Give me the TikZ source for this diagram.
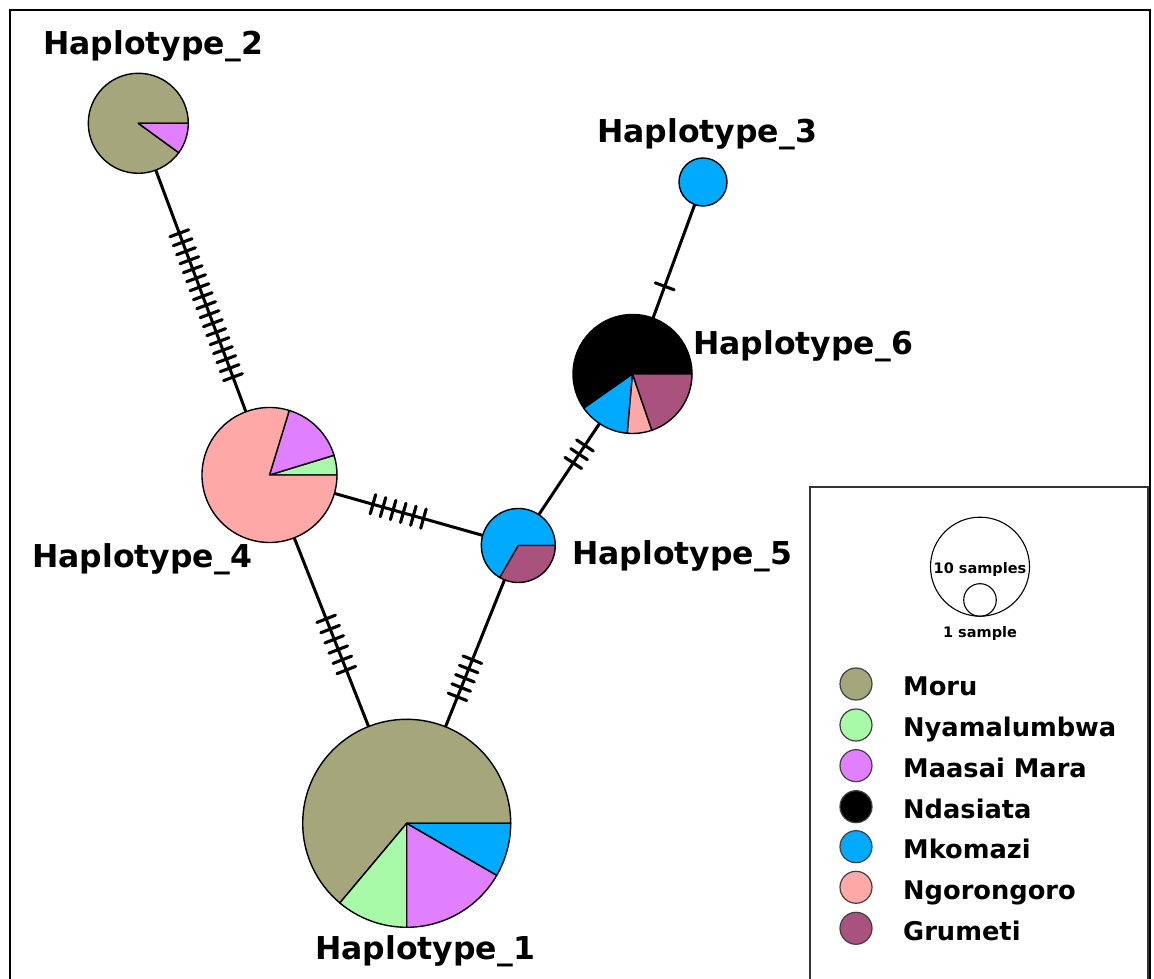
\documentclass[tikz,border=0pt]{standalone}
\usepackage{fontspec}
\setmainfont{DejaVu Sans}
\usetikzlibrary{decorations.markings}
\definecolor{moru}{RGB}{166,166,124}
\definecolor{nyama}{RGB}{168,250,168}
\definecolor{maasai}{RGB}{225,128,255}
\definecolor{ndas}{RGB}{0,0,0}
\definecolor{mkom}{RGB}{0,170,255}
\definecolor{ngoro}{RGB}{255,168,168}
\definecolor{grum}{RGB}{168,82,125}
\tikzset{
  hap/.style={circle, minimum size=#1, inner sep=0pt, outer sep=0pt},
  edge/.style={line width=3pt, black},
  tk/.style={line width=3.1pt, line cap=round, black},
  ticks/.style n args={3}{postaction={decorate}, decoration={markings,
     mark=at position #1 with {\foreach \k in {1,...,#2} {\draw[tk] ({((\k-(#2+1)/2)*#3)*1pt},-10pt) -- ++(0pt,20pt);}}}},
  slice/.style={draw=black, line width=1.4pt, line join=round},
  hlabel/.style={font=\bfseries\fontsize{31.5}{32}\selectfont, anchor=base west, inner sep=0pt},
  leglab/.style={font=\bfseries\fontsize{25.7}{26}\selectfont, anchor=base west, inner sep=0pt},
  legdot/.style={circle, draw=black!75, line width=1.2pt, minimum size=32pt, inner sep=0pt},
  sizecirc/.style={circle, draw=black, line width=1.1pt, minimum size=#1, inner sep=0pt},
  smalltxt/.style={font=\bfseries\fontsize{14.5}{15}\selectfont, anchor=base, inner sep=0pt},
  frame/.style={line width=2pt, black},
  legframe/.style={line width=1.6pt, black!80},
}
\newcommand\pslice[5]{\filldraw[slice, fill=#5] (#1.center) -- ++(#3:#2) arc[start angle=#3, end angle=#4, radius=#2] -- cycle;}
\begin{document}
\begin{tikzpicture}[x=1pt,y=1pt]
\useasboundingbox (0,0) rectangle (1154,979);
% outer frame
\draw[frame] (10,-5) -- (10,969) -- (1150,969) -- (1150,-5);
% haplotype nodes
\node[hap=100pt] (h2) at (138.3,855.7) {};
\node[hap=48pt]  (h3) at (703,797) {};
\node[hap=119pt] (h6) at (632.5,605) {};
\node[hap=135pt] (h4) at (269.5,504) {};
\node[hap=74pt]  (h5) at (518.3,433.5) {};
\node[hap=208pt] (h1) at (406.7,155.7) {};
% connectors
\draw[edge, ticks={0.559}{17}{9.6}] (h2) -- (h4);
\draw[edge, ticks={0.565}{6}{11}] (h4) -- (h1);
\draw[edge, ticks={0.43}{6}{10.5}] (h4) -- (h5);
\draw[edge, ticks={0.67}{5}{10}] (h5) -- (h1);
\draw[edge, ticks={0.665}{3}{10.5}] (h5) -- (h6);
\draw[edge, ticks={0.28}{1}{10}] (h6) -- (h3);
% pies
\pslice{h2}{50pt}{0}{324}{moru}
\pslice{h2}{50pt}{324}{360}{maasai}
\filldraw[slice, fill=mkom] (h3.center) circle[radius=24pt];
\pslice{h6}{59.5pt}{0}{215}{ndas}
\pslice{h6}{59.5pt}{215}{265}{mkom}
\pslice{h6}{59.5pt}{265}{289}{ngoro}
\pslice{h6}{59.5pt}{289}{360}{grum}
\pslice{h4}{67.5pt}{0}{17}{nyama}
\pslice{h4}{67.5pt}{17}{73}{maasai}
\pslice{h4}{67.5pt}{73}{360}{ngoro}
\pslice{h5}{37pt}{0}{240}{mkom}
\pslice{h5}{37pt}{240}{360}{grum}
\pslice{h1}{104pt}{0}{230}{moru}
\pslice{h1}{104pt}{230}{270}{nyama}
\pslice{h1}{104pt}{270}{330}{maasai}
\pslice{h1}{104pt}{330}{360}{mkom}
% labels
\node[hlabel] (t2) at (43,924) {Haplotype\_2};
\node[hlabel] (t3) at (597,836) {Haplotype\_3};
\node[hlabel] (t6) at (693,624) {Haplotype\_6};
\node[hlabel] (t4) at (32,411) {Haplotype\_4};
\node[hlabel] (t5) at (572,414) {Haplotype\_5};
\node[hlabel] (t1) at (315,19) {Haplotype\_1};
% legend
\draw[legframe] (810,-5) -- (810,492) -- (1148,492) -- (1148,-5);
\node[sizecirc=99pt] (lbig) at (980,412.3) {};
\node[sizecirc=32.6pt] (lsmall) at (980,379) {};
\node[smalltxt] (l10) at (980,405.4) {10 samples};
\node[smalltxt] (l1) at (980,341.7) {1 sample};
\node[legdot, fill=moru] (d1) at (856,295) {};
\node[legdot, fill=nyama] (d2) at (856,254) {};
\node[legdot, fill=maasai] (d3) at (856,213.3) {};
\node[legdot, fill=ndas] (d4) at (856,172.3) {};
\node[legdot, fill=mkom] (d5) at (856,132.3) {};
\node[legdot, fill=ngoro] (d6) at (856,91.7) {};
\node[legdot, fill=grum] (d7) at (856,50.7) {};
\node[leglab] (n1) at (903,283) {Moru};
\node[leglab] (n2) at (903,242) {Nyamalumbwa};
\node[leglab] (n3) at (903,201.3) {Maasai Mara};
\node[leglab] (n4) at (903,160.3) {Ndasiata};
\node[leglab] (n5) at (903,120.3) {Mkomazi};
\node[leglab] (n6) at (903,79.7) {Ngorongoro};
\node[leglab] (n7) at (903,38.7) {Grumeti};
\end{tikzpicture}
\end{document}
